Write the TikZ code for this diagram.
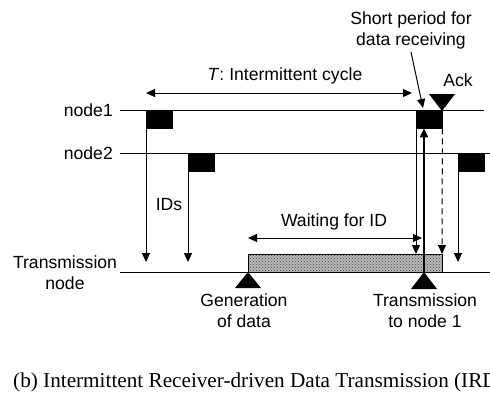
\documentclass[tikz,border=0pt]{standalone}
\usepackage{fontspec}
\setmainfont{Liberation Sans}
\newfontfamily\capfont{Liberation Serif}
\usetikzlibrary{arrows.meta,patterns}

\tikzset{
  lbl/.style={font=\fontsize{17.6}{21}\selectfont, inner sep=0pt, align=center},
  slot/.style={fill=black, draw=black, minimum width=26pt, minimum height=18pt, inner sep=0pt, anchor=north west},
  msg/.style={-{Triangle[length=9pt,width=8pt]}, line width=1pt},
  span/.style={{Triangle[length=9pt,width=8pt]}-{Triangle[length=9pt,width=8pt]}, line width=1pt},
  tline/.style={line width=1pt},
}

\begin{document}
\begin{tikzpicture}[x=1pt,y=-1pt]
  \useasboundingbox (0,0) rectangle (490,392);
  % time lines
  \draw[tline] (120,110) -- (484,110);
  \draw[tline] (120,153) -- (490,153);
  \draw[tline] (120,272) -- (490,272);
  % waiting period
  \draw[tline, pattern=crosshatch dots, pattern color=black!75, preaction={fill=gray!55}]
    (248,254) rectangle (442,272);
  \draw
    (113,110) node[lbl, anchor=east] (n1){node1}
    (113,153) node[lbl, anchor=east] (n2){node2}
    (65,273) node[lbl] (tx){Transmission\\node}
    (146,110) node[slot] (b1){}
    (188,153) node[slot] (b2){}
    (416,110) node[slot] (b3){}
    (458,153) node[slot] (b4){}
    (285,76) node[lbl] (cyc){\textit{T}: Intermittent cycle}
    (411,30) node[lbl] (sp){Short period for\\data receiving}
    (458,80) node[lbl] (ack){Ack}
    (169,205) node[lbl] (ids){IDs}
    (334,222) node[lbl] (wt){Waiting for ID}
    (244,311) node[lbl] (gen){Generation\\of data}
    (425,311) node[lbl] (snd){Transmission\\to node 1};
  \node[anchor=base west, inner sep=0pt, font=\capfont\fontsize{21.2}{24}\selectfont] (cap) at (13,387)
    {(b) Intermittent Receiver-driven Data Transmission (IRDT)};
  % end points
  \coordinate (r1) at (146,262);
  \coordinate (r2) at (188,262);
  \coordinate (r3) at (416,254);
  \coordinate (r4) at (442,254);
  \coordinate (r5) at (458,262);
  \coordinate (c1) at (146,93);
  \coordinate (c2) at (412,93);
  \coordinate (w1) at (248,238);
  \coordinate (w2) at (422,238);
  \coordinate (s1) at (411,52);
  \coordinate (s2) at (423,108);
  \coordinate (g) at (248,272);
  \coordinate (t) at (424,272);
  \coordinate (a) at (442,111);
  % triangles
  \fill (g) -- ++(-13,16) -- ++(26,0) -- cycle;
  \fill (t) -- ++(-13,17) -- ++(26,0) -- cycle;
  \fill (a) -- ++(-13,-17) -- ++(26,0) -- cycle;
  \begin{scope}[msg]
    \draw (b1.south west) to (r1);
    \draw (b2.south west) to (r2);
    \draw (b3.south west) to (r3);
    \draw[dash pattern=on 6pt off 4pt] (b3.south east) to (r4);
    \draw (b4.south west) to (r5);
    \draw (s1) to (s2);
    \draw[line width=2pt] (t) to (b3.south -| t);
  \end{scope}
  \draw[span] (c1) -- (c2);
  \draw[span] (w1) -- (w2);
\end{tikzpicture}
\end{document}
